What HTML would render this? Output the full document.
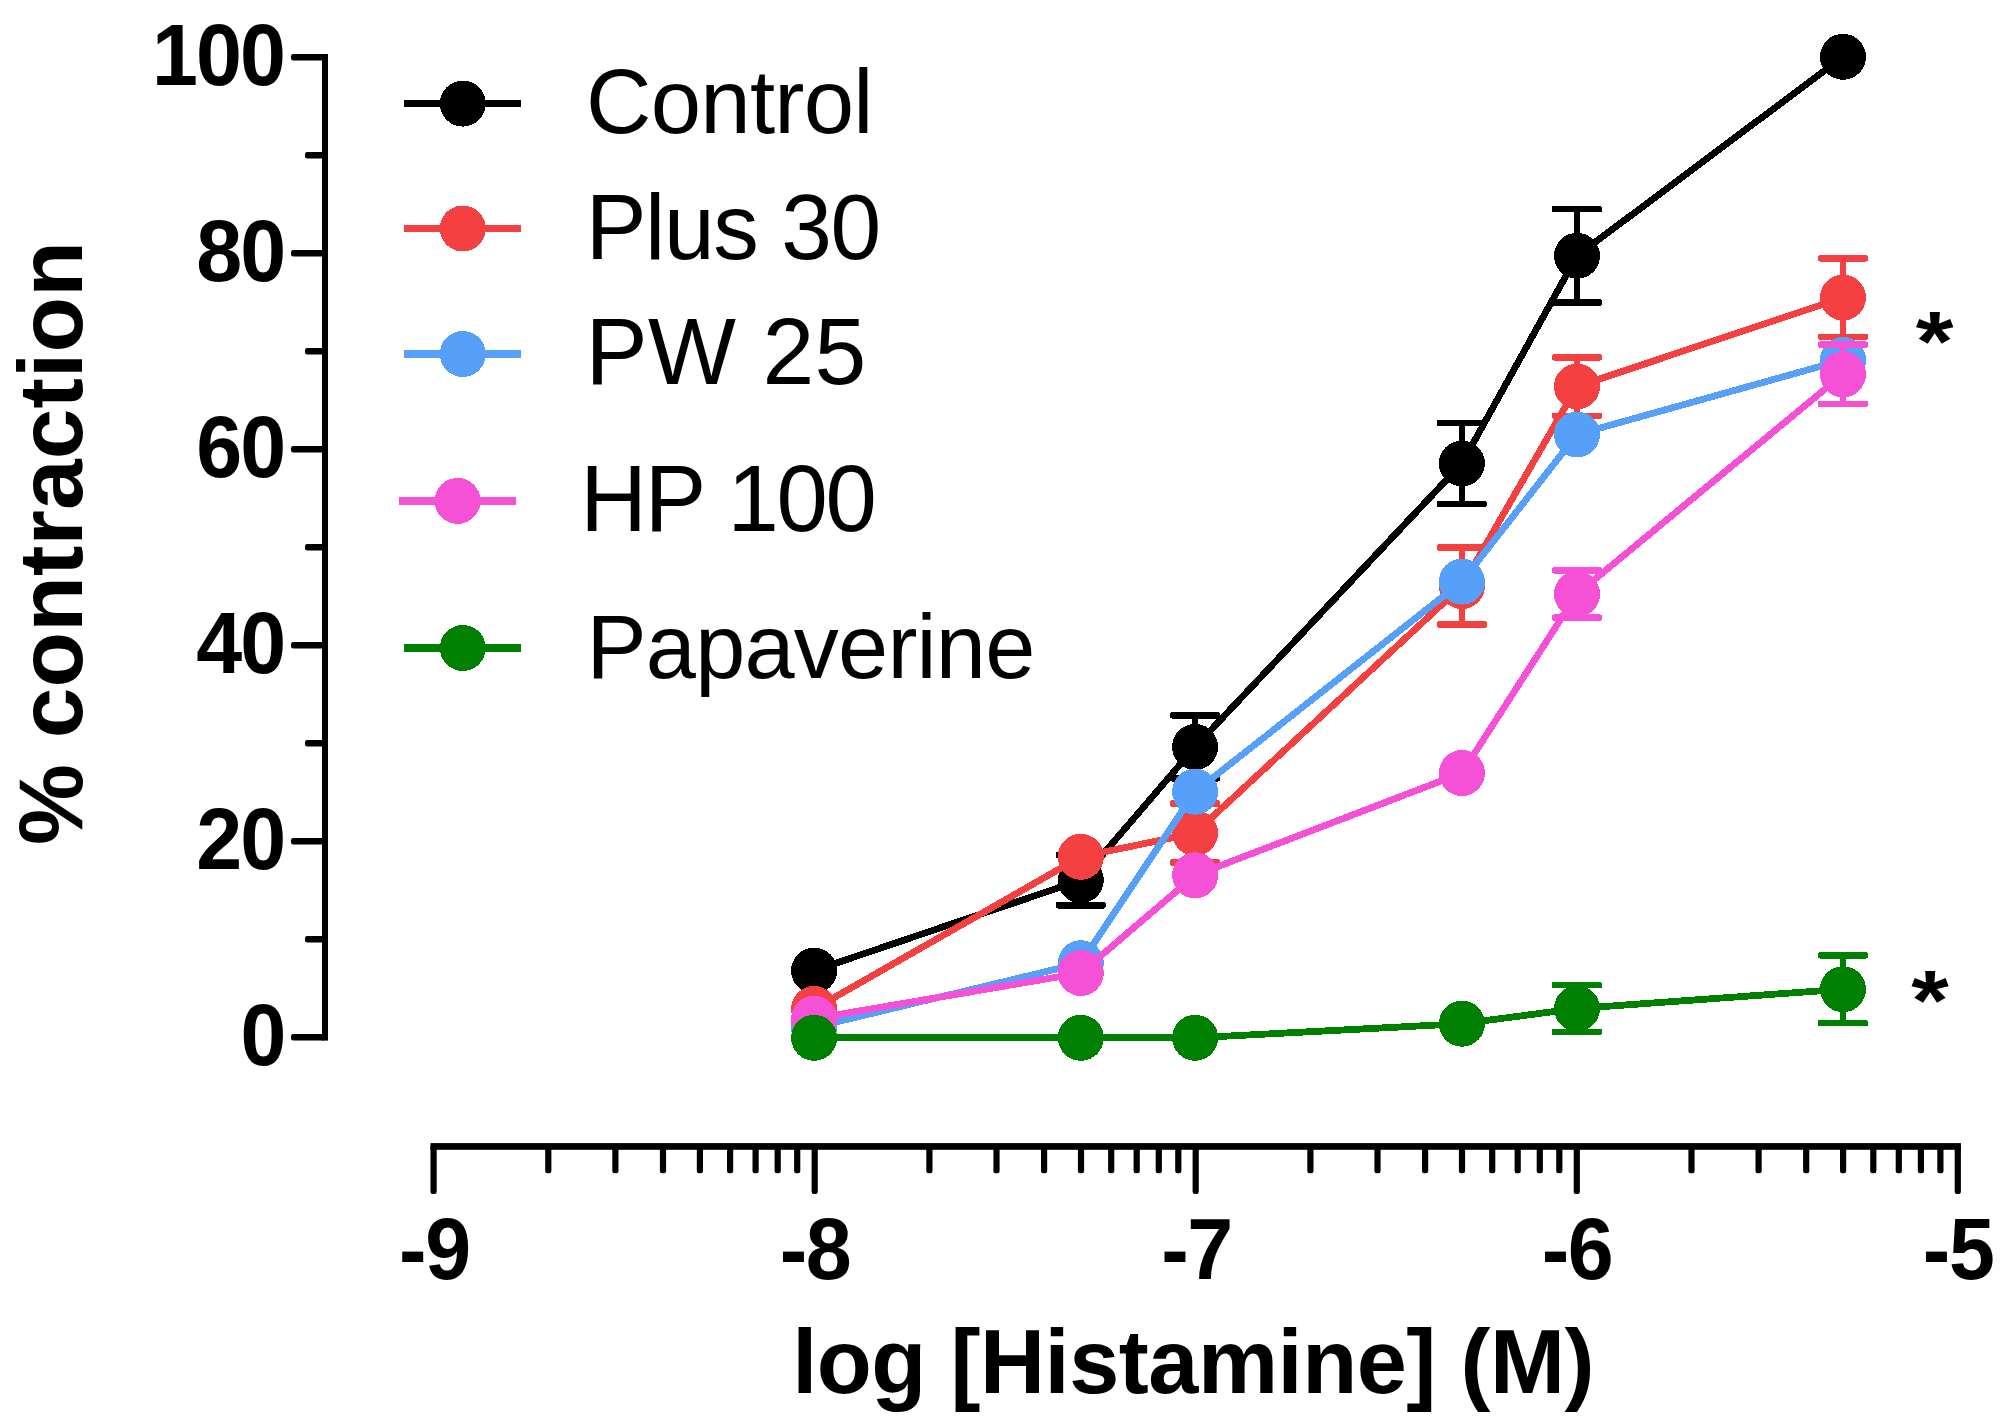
<!DOCTYPE html>
<html lang="en"><head><meta charset="utf-8"><title>Histamine contraction</title>
<style>html,body{margin:0;padding:0;background:#fff}body{width:2016px;height:1425px;overflow:hidden}svg{display:block}text{font-family:"Liberation Sans",Arial,Helvetica,sans-serif;fill:#000;font-kerning:none}.b{font-weight:bold}</style></head><body>
<svg width="2016" height="1425" viewBox="0 0 2016 1425">
<rect width="2016" height="1425" fill="#fff"/>
<g fill="#000">
<rect x="322" y="54" width="6" height="986.6"/>
<rect x="291" y="1034.0" width="34" height="6.4" rx="2.2"/>
<rect x="305" y="936.0" width="20" height="6.4" rx="2.2"/>
<rect x="291" y="838.0" width="34" height="6.4" rx="2.2"/>
<rect x="305" y="740.0" width="20" height="6.4" rx="2.2"/>
<rect x="291" y="642.0" width="34" height="6.4" rx="2.2"/>
<rect x="305" y="544.0" width="20" height="6.4" rx="2.2"/>
<rect x="291" y="446.0" width="34" height="6.4" rx="2.2"/>
<rect x="305" y="348.0" width="20" height="6.4" rx="2.2"/>
<rect x="291" y="250.0" width="34" height="6.4" rx="2.2"/>
<rect x="305" y="152.0" width="20" height="6.4" rx="2.2"/>
<rect x="291" y="54.0" width="34" height="6.4" rx="2.2"/>
<rect x="430.5" y="1143.1" width="1530.4" height="6.7"/>
<rect x="430.5" y="1144" width="6.2" height="50" rx="2.2"/>
<rect x="545.2" y="1144" width="6.2" height="29.2" rx="2.2"/>
<rect x="612.3" y="1144" width="6.2" height="29.2" rx="2.2"/>
<rect x="659.9" y="1144" width="6.2" height="29.2" rx="2.2"/>
<rect x="696.8" y="1144" width="6.2" height="29.2" rx="2.2"/>
<rect x="727.0" y="1144" width="6.2" height="29.2" rx="2.2"/>
<rect x="752.5" y="1144" width="6.2" height="29.2" rx="2.2"/>
<rect x="774.6" y="1144" width="6.2" height="29.2" rx="2.2"/>
<rect x="794.1" y="1144" width="6.2" height="29.2" rx="2.2"/>
<rect x="811.6" y="1144" width="6.2" height="50" rx="2.2"/>
<rect x="926.3" y="1144" width="6.2" height="29.2" rx="2.2"/>
<rect x="993.4" y="1144" width="6.2" height="29.2" rx="2.2"/>
<rect x="1041.0" y="1144" width="6.2" height="29.2" rx="2.2"/>
<rect x="1077.9" y="1144" width="6.2" height="29.2" rx="2.2"/>
<rect x="1108.1" y="1144" width="6.2" height="29.2" rx="2.2"/>
<rect x="1133.6" y="1144" width="6.2" height="29.2" rx="2.2"/>
<rect x="1155.7" y="1144" width="6.2" height="29.2" rx="2.2"/>
<rect x="1175.2" y="1144" width="6.2" height="29.2" rx="2.2"/>
<rect x="1192.6" y="1144" width="6.2" height="50" rx="2.2"/>
<rect x="1307.3" y="1144" width="6.2" height="29.2" rx="2.2"/>
<rect x="1374.4" y="1144" width="6.2" height="29.2" rx="2.2"/>
<rect x="1422.0" y="1144" width="6.2" height="29.2" rx="2.2"/>
<rect x="1458.9" y="1144" width="6.2" height="29.2" rx="2.2"/>
<rect x="1489.1" y="1144" width="6.2" height="29.2" rx="2.2"/>
<rect x="1514.6" y="1144" width="6.2" height="29.2" rx="2.2"/>
<rect x="1536.7" y="1144" width="6.2" height="29.2" rx="2.2"/>
<rect x="1556.2" y="1144" width="6.2" height="29.2" rx="2.2"/>
<rect x="1573.7" y="1144" width="6.2" height="50" rx="2.2"/>
<rect x="1688.4" y="1144" width="6.2" height="29.2" rx="2.2"/>
<rect x="1755.5" y="1144" width="6.2" height="29.2" rx="2.2"/>
<rect x="1803.1" y="1144" width="6.2" height="29.2" rx="2.2"/>
<rect x="1840.0" y="1144" width="6.2" height="29.2" rx="2.2"/>
<rect x="1870.2" y="1144" width="6.2" height="29.2" rx="2.2"/>
<rect x="1895.7" y="1144" width="6.2" height="29.2" rx="2.2"/>
<rect x="1917.8" y="1144" width="6.2" height="29.2" rx="2.2"/>
<rect x="1937.3" y="1144" width="6.2" height="29.2" rx="2.2"/>
<rect x="1954.7" y="1144" width="6.2" height="50" rx="2.2"/>
</g>
<text class="b" transform="translate(152.11 85.4) scale(0.9580 1)" font-size="86.2" letter-spacing="-2.00">100</text>
<text class="b" transform="translate(196.28 281.4) scale(0.9580 1)" font-size="86.2" letter-spacing="-2.00">80</text>
<text class="b" transform="translate(196.28 477.4) scale(0.9580 1)" font-size="86.2" letter-spacing="-2.00">60</text>
<text class="b" transform="translate(196.28 673.4) scale(0.9580 1)" font-size="86.2" letter-spacing="-2.00">40</text>
<text class="b" transform="translate(196.28 869.4) scale(0.9580 1)" font-size="86.2" letter-spacing="-2.00">20</text>
<text class="b" transform="translate(240.43 1065.4) scale(0.9561 1)" font-size="86.2">0</text>
<text class="b" transform="translate(399.11 1279.0) scale(0.9580 1)" font-size="86.2" letter-spacing="-1.50">-9</text>
<text class="b" transform="translate(779.69 1279.0) scale(0.9580 1)" font-size="86.2" letter-spacing="-1.50">-8</text>
<text class="b" transform="translate(1161.21 1279.0) scale(0.9580 1)" font-size="86.2" letter-spacing="-1.50">-7</text>
<text class="b" transform="translate(1541.79 1279.0) scale(0.9580 1)" font-size="86.2" letter-spacing="-1.50">-6</text>
<text class="b" transform="translate(1922.84 1279.0) scale(0.9580 1)" font-size="86.2" letter-spacing="-1.50">-5</text>
<text class="b" transform="translate(792.16 1392.7) scale(0.9900 1)" font-size="91" letter-spacing="-0.46">log [Histamine] (M)</text>
<text class="b" transform="translate(82.0 844.90) rotate(-90) scale(1.0000 1)" font-size="91" letter-spacing="0.17">% contraction</text>
<g fill="#000000" stroke="#000000" shape-rendering="crispEdges">
<polyline points="814.1,970.6 1080.8,880.2 1195.1,746.9 1461.9,463.5 1577.0,255.8 1843.0,56.8" fill="none" stroke-width="6.8" stroke-linejoin="round"/>
<path d="M1080.8 855.2V905.2" fill="none" stroke-width="6.4"/>
<rect x="1055.8" y="851.9" width="50" height="6.6" rx="2.2" stroke="none"/><rect x="1055.8" y="901.9" width="50" height="6.6" rx="2.2" stroke="none"/>
<path d="M1195.1 715.4V778.4" fill="none" stroke-width="6.4"/>
<rect x="1170.1" y="712.1" width="50" height="6.6" rx="2.2" stroke="none"/><rect x="1170.1" y="775.1" width="50" height="6.6" rx="2.2" stroke="none"/>
<path d="M1461.9 422.9V504.1" fill="none" stroke-width="6.4"/>
<rect x="1436.9" y="419.6" width="50" height="6.6" rx="2.2" stroke="none"/><rect x="1436.9" y="500.8" width="50" height="6.6" rx="2.2" stroke="none"/>
<path d="M1577.0 209.1V302.5" fill="none" stroke-width="6.4"/>
<rect x="1552.0" y="205.8" width="50" height="6.6" rx="2.2" stroke="none"/><rect x="1552.0" y="299.2" width="50" height="6.6" rx="2.2" stroke="none"/>
<circle cx="814.1" cy="970.6" r="23.0" stroke="none"/>
<circle cx="1080.8" cy="880.2" r="23.0" stroke="none"/>
<circle cx="1195.1" cy="746.9" r="23.0" stroke="none"/>
<circle cx="1461.9" cy="463.5" r="23.0" stroke="none"/>
<circle cx="1577.0" cy="255.8" r="23.0" stroke="none"/>
<circle cx="1843.0" cy="56.8" r="23.0" stroke="none"/>
</g>
<g fill="#F54041" stroke="#F54041" shape-rendering="crispEdges">
<polyline points="814.1,1009.0 1080.8,856.8 1195.1,833.0 1461.9,586.0 1577.0,386.5 1843.0,297.6" fill="none" stroke-width="6.8" stroke-linejoin="round"/>
<path d="M1195.1 803.5V862.5" fill="none" stroke-width="6.4"/>
<rect x="1170.1" y="800.2" width="50" height="6.6" rx="2.2" stroke="none"/><rect x="1170.1" y="859.2" width="50" height="6.6" rx="2.2" stroke="none"/>
<path d="M1461.9 547.5V624.5" fill="none" stroke-width="6.4"/>
<rect x="1436.9" y="544.2" width="50" height="6.6" rx="2.2" stroke="none"/><rect x="1436.9" y="621.2" width="50" height="6.6" rx="2.2" stroke="none"/>
<path d="M1577.0 357.2V415.8" fill="none" stroke-width="6.4"/>
<rect x="1552.0" y="353.9" width="50" height="6.6" rx="2.2" stroke="none"/><rect x="1552.0" y="412.5" width="50" height="6.6" rx="2.2" stroke="none"/>
<path d="M1843.0 258.4V336.8" fill="none" stroke-width="6.4"/>
<rect x="1818.0" y="255.1" width="50" height="6.6" rx="2.2" stroke="none"/><rect x="1818.0" y="333.5" width="50" height="6.6" rx="2.2" stroke="none"/>
<circle cx="814.1" cy="1009.0" r="23.0" stroke="none"/>
<circle cx="1080.8" cy="856.8" r="23.0" stroke="none"/>
<circle cx="1195.1" cy="833.0" r="23.0" stroke="none"/>
<circle cx="1461.9" cy="586.0" r="23.0" stroke="none"/>
<circle cx="1577.0" cy="386.5" r="23.0" stroke="none"/>
<circle cx="1843.0" cy="297.6" r="23.0" stroke="none"/>
</g>
<g fill="#57A0F9" stroke="#57A0F9" shape-rendering="crispEdges">
<polyline points="814.1,1027.3 1080.8,963.2 1195.1,791.7 1461.9,581.6 1577.0,434.5 1843.0,360.0" fill="none" stroke-width="6.8" stroke-linejoin="round"/>
<circle cx="814.1" cy="1027.3" r="23.0" stroke="none"/>
<circle cx="1080.8" cy="963.2" r="23.0" stroke="none"/>
<circle cx="1195.1" cy="791.7" r="23.0" stroke="none"/>
<circle cx="1461.9" cy="581.6" r="23.0" stroke="none"/>
<circle cx="1577.0" cy="434.5" r="23.0" stroke="none"/>
<circle cx="1843.0" cy="360.0" r="23.0" stroke="none"/>
</g>
<g fill="#F650D6" stroke="#F650D6" shape-rendering="crispEdges">
<polyline points="814.1,1018.7 1080.8,973.0 1195.1,875.3 1461.9,773.0 1577.0,594.0 1843.0,374.3" fill="none" stroke-width="6.8" stroke-linejoin="round"/>
<path d="M1577.0 570.3V617.7" fill="none" stroke-width="6.4"/>
<rect x="1552.0" y="567.0" width="50" height="6.6" rx="2.2" stroke="none"/><rect x="1552.0" y="614.4" width="50" height="6.6" rx="2.2" stroke="none"/>
<path d="M1843.0 344.7V403.9" fill="none" stroke-width="6.4"/>
<rect x="1818.0" y="341.4" width="50" height="6.6" rx="2.2" stroke="none"/><rect x="1818.0" y="400.6" width="50" height="6.6" rx="2.2" stroke="none"/>
<circle cx="814.1" cy="1018.7" r="23.0" stroke="none"/>
<circle cx="1080.8" cy="973.0" r="23.0" stroke="none"/>
<circle cx="1195.1" cy="875.3" r="23.0" stroke="none"/>
<circle cx="1461.9" cy="773.0" r="23.0" stroke="none"/>
<circle cx="1577.0" cy="594.0" r="23.0" stroke="none"/>
<circle cx="1843.0" cy="374.3" r="23.0" stroke="none"/>
</g>
<g fill="#008000" stroke="#008000" shape-rendering="crispEdges">
<polyline points="814.1,1037.8 1080.8,1037.8 1195.1,1037.8 1461.9,1023.7 1577.0,1008.5 1843.0,989.2" fill="none" stroke-width="6.8" stroke-linejoin="round"/>
<path d="M1577.0 985.1V1031.9" fill="none" stroke-width="6.4"/>
<rect x="1552.0" y="981.8" width="50" height="6.6" rx="2.2" stroke="none"/><rect x="1552.0" y="1028.6" width="50" height="6.6" rx="2.2" stroke="none"/>
<path d="M1843.0 955.3V1023.1" fill="none" stroke-width="6.4"/>
<rect x="1818.0" y="952.0" width="50" height="6.6" rx="2.2" stroke="none"/><rect x="1818.0" y="1019.8" width="50" height="6.6" rx="2.2" stroke="none"/>
<circle cx="814.1" cy="1037.8" r="23.0" stroke="none"/>
<circle cx="1080.8" cy="1037.8" r="23.0" stroke="none"/>
<circle cx="1195.1" cy="1037.8" r="23.0" stroke="none"/>
<circle cx="1461.9" cy="1023.7" r="23.0" stroke="none"/>
<circle cx="1577.0" cy="1008.5" r="23.0" stroke="none"/>
<circle cx="1843.0" cy="989.2" r="23.0" stroke="none"/>
</g>
<g fill="#000000" shape-rendering="crispEdges"><rect x="404.2" y="100.0" width="117" height="7.2"/><circle cx="462.8" cy="103.6" r="23.0"/></g>
<text transform="translate(586.05 132.9) scale(0.9900 1)" font-size="91.5" letter-spacing="-0.78">Control</text>
<g fill="#F54041" shape-rendering="crispEdges"><rect x="404.2" y="224.9" width="117" height="7.2"/><circle cx="462.8" cy="228.5" r="23.0"/></g>
<text transform="translate(585.72 258.7) scale(0.9850 1)" font-size="92.5" letter-spacing="-1.41">Plus 30</text>
<g fill="#57A0F9" shape-rendering="crispEdges"><rect x="404.2" y="350.4" width="117" height="7.2"/><circle cx="462.8" cy="354" r="23.0"/></g>
<text transform="translate(585.54 383.9) scale(0.9950 1)" font-size="93.7" letter-spacing="0.29">PW 25</text>
<g fill="#F650D6" shape-rendering="crispEdges"><rect x="399.0" y="497.3" width="117" height="7.2"/><circle cx="457.6" cy="500.9" r="23.0"/></g>
<text transform="translate(580.22 531.3) scale(0.9850 1)" font-size="93.7" letter-spacing="-2.25">HP 100</text>
<g fill="#008000" shape-rendering="crispEdges"><rect x="404.2" y="644.4" width="117" height="7.2"/><circle cx="462.8" cy="648" r="23.0"/></g>
<text transform="translate(586.57 678.0) scale(0.9900 1)" font-size="91" letter-spacing="-0.79">Papaverine</text>
<text class="b" transform="translate(1915.77 370.8) scale(1.1281 1)" font-size="86">*</text>
<text class="b" transform="translate(1911.18 1029.8) scale(1.1219 1)" font-size="86">*</text>
</svg></body></html>
